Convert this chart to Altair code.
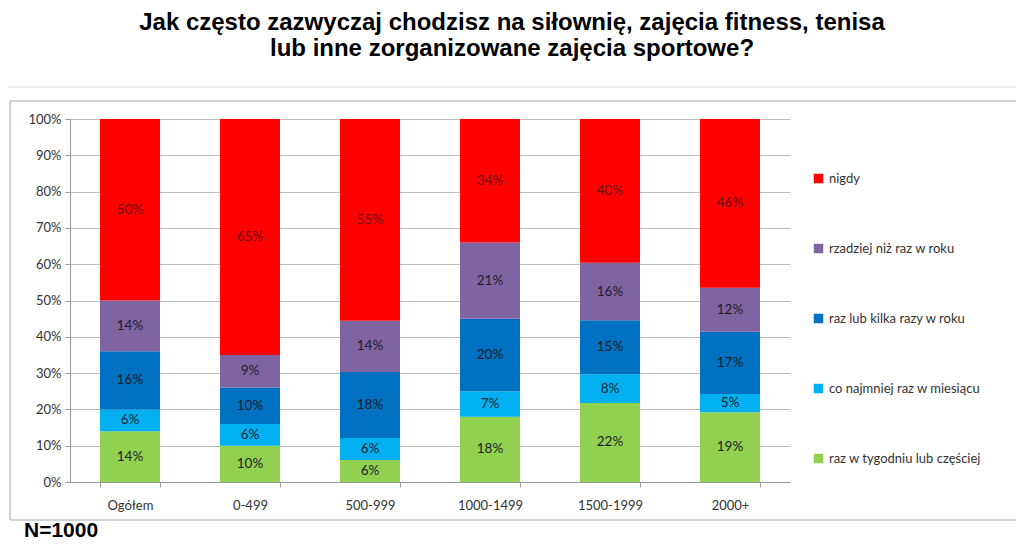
import altair as alt
import pandas as pd

categories = ["Ogółem", "0-499", "500-999", "1000-1499", "1500-1999", "2000+"]
series = ["nigdy", "rzadziej niż raz w roku", "raz lub kilka razy w roku",
          "co najmniej raz w miesiącu", "raz w tygodniu lub częściej"]
colors = ["#FF0000", "#8064A2", "#0070C0", "#00B0F0", "#92D050"]

nigdy = [50, 65, 55, 34, 40, 46]
rzadziej = [14, 9, 14, 21, 16, 12]
kilka = [16, 10, 18, 20, 15, 17]
miesiac = [6, 6, 6, 7, 8, 5]
tydzien = [14, 10, 6, 18, 22, 19]

y_ticks = [0, 0.1, 0.2, 0.3, 0.4, 0.5, 0.6, 0.7, 0.8, 0.9, 1.0]

values = [nigdy, rzadziej, kilka, miesiac, tydzien]
stack_order = [4, 3, 2, 1, 0]

rows = []
for s, vals, o in zip(series, values, stack_order):
    for c, v in zip(categories, vals):
        rows.append({"cat": c, "series": s, "value": v, "ord": o,
                     "label": f"{v}%"})
df = pd.DataFrame(rows)

FONT = "Lato"

base = alt.Chart(df).transform_stack(
    stack="value", as_=["y0", "y1"], groupby=["cat"],
    sort=[alt.SortField("ord", order="ascending")], offset="normalize"
).transform_calculate(mid="(datum.y0 + datum.y1) / 2")

xaxis = alt.Axis(labelAngle=0, labelFont=FONT, labelFontSize=13,
                 labelColor="#333", labelPadding=12, tickBand="extent",
                 domainColor="#999", tickColor="#999", tickSize=5, grid=False)
yaxis = alt.Axis(format=".0%", values=y_ticks, labelOverlap=False,
                 labelFont=FONT, labelFontSize=13, labelColor="#333",
                 labelPadding=4, domainColor="#999", tickColor="#999",
                 tickSize=5, gridColor="#BBBBBB", gridWidth=1)
xscale = alt.Scale(paddingInner=0.5, paddingOuter=0.25)
yscale = alt.Scale(domain=[0, 1])

bars = base.mark_bar().encode(
    x=alt.X("cat:N", sort=categories, title=None, scale=xscale, axis=xaxis),
    y=alt.Y("y0:Q", scale=yscale, title=None, axis=yaxis),
    y2="y1:Q",
    color=alt.Color("series:N", scale=alt.Scale(domain=series, range=colors),
                    legend=alt.Legend(title=None, orient="none", legendX=742,
                                      legendY=53, symbolType="square",
                                      symbolSize=90, symbolStrokeWidth=0,
                                      labelFont=FONT, labelFontSize=13,
                                      labelColor="#333", rowPadding=56,
                                      labelLimit=300)),
    order=alt.Order("ord:Q"),
)

labels = base.mark_text(font=FONT, fontSize=13.5, baseline="middle").encode(
    x=alt.X("cat:N", sort=categories, title=None, scale=xscale, axis=xaxis),
    y=alt.Y("mid:Q", scale=yscale, title=None, axis=yaxis),
    text="label:N",
    color=alt.condition(alt.datum.series == "nigdy", alt.value("#6b1010"),
                        alt.value("#1c1c2a")),
)

one = alt.Data(values=[{"a": 1}])

frame = alt.Chart(one).mark_rect(fill="transparent", stroke="#A6A6A6",
                                 strokeWidth=1).encode(
    x=alt.value(-60), x2=alt.value(950), y=alt.value(-18), y2=alt.value(401))

sep = alt.Chart(one).mark_rule(color="#D8D8D8", strokeWidth=1).encode(
    x=alt.value(-62), x2=alt.value(946), y=alt.value(-32))

t1 = alt.Chart(one).mark_text(font="Liberation Sans", fontWeight="bold",
                              fontSize=24, align="center", baseline="alphabetic",
                              color="#000").encode(
    x=alt.value(442), y=alt.value(-89),
    text=alt.value("Jak często zazwyczaj chodzisz na siłownię, zajęcia fitness, tenisa"))
t2 = alt.Chart(one).mark_text(font="Liberation Sans", fontWeight="bold",
                              fontSize=24, align="center", baseline="alphabetic",
                              color="#000").encode(
    x=alt.value(442), y=alt.value(-63),
    text=alt.value("lub inne zorganizowane zajęcia sportowe?"))
nt = alt.Chart(one).mark_text(font="Liberation Sans", fontWeight="bold",
                              fontSize=21, align="left", baseline="alphabetic",
                              color="#000").encode(
    x=alt.value(-46), y=alt.value(418), text=alt.value("N=1000"))

chart = alt.layer(frame, sep, bars, labels, t1, t2, nt).properties(
    width=720, height=363,
    autosize=alt.AutoSizeParams(type="none"),
    padding={"left": 62, "top": 111, "right": 226, "bottom": 70},
).configure_view(stroke=None)

chart.save("out.html", embed_options={"renderer": "svg", "actions": False})
